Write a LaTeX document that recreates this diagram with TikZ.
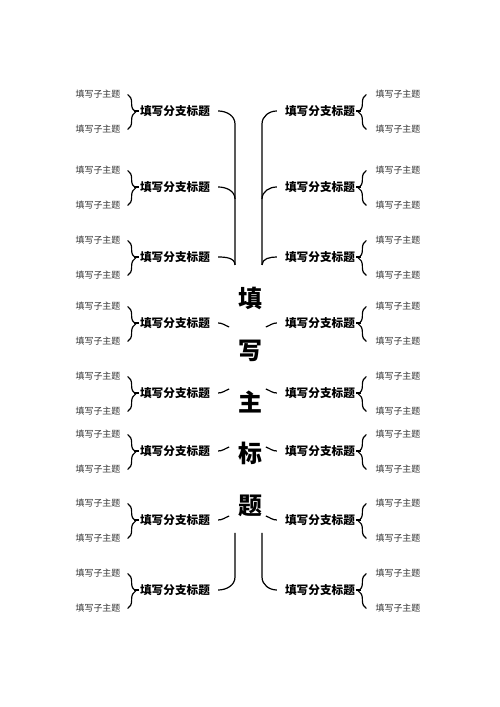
\documentclass[tikz,border=0pt]{standalone}
\usepackage{fontspec}
\newfontfamily\cjk{Noto Sans CJK SC}
\usetikzlibrary{positioning,decorations.pathreplacing}

\begin{document}
\begin{tikzpicture}[
		x=1bp,y=1bp,
		branch/.style={
			font=\cjk\bfseries\fontsize{11.7}{14}\selectfont,
			inner sep=1bp
		},
		leaf/.style={
			font=\cjk\fontsize{9}{10}\selectfont,
			text=black!80,
			inner sep=1bp
		},
		head/.style={
			font=\cjk\bfseries\fontsize{24}{52}\selectfont,
			align=center,
			inner sep=0pt
		},
		link/.style={line width=1.2bp},
		lbrace/.style={link, decorate, decoration={brace, amplitude=8bp}}
		]
		\useasboundingbox (0,0) rectangle (500,707);
		\node[head] (head) at (250,305) {填\\写\\主\\标\\题};
		\foreach \yy [count=\mi] in {596,520,450,384,314,256,187,117}
		{
			\node[branch] (bl-\mi) at (175,\yy) {填写分支标题};
			\node[branch] (br-\mi) at (320,\yy) {填写分支标题};
			\node[leaf] (ll-\mi-1) at (98,\yy+16.5) {填写子主题};
			\node[leaf] (ll-\mi-2) at (98,\yy-18.5) {填写子主题};
			\node[leaf] (lr-\mi-1) at (398,\yy+16.5) {填写子主题};
			\node[leaf] (lr-\mi-2) at (398,\yy-18.5) {填写子主题};
			\draw[lbrace] ([xshift=6bp]ll-\mi-1.east) -- ([xshift=6bp]ll-\mi-2.east);
			\draw[lbrace] ([xshift=-8bp]lr-\mi-2.west) -- ([xshift=-8bp]lr-\mi-1.west);
			\draw[link] (bl-\mi.west) -- +(-5,0);
			\draw[link] (br-\mi.east) -- +(5,0);
		}
		\draw[link] ([xshift=7bp]bl-1.east) to[out=0,in=90] (235,583) -- (235,442);
		\draw[link] ([xshift=7bp]bl-2.east) to[out=0,in=90] (235,508);
		\draw[link] ([xshift=7bp]bl-3.east) to[out=0,in=90] (235,442);
		\draw[link] ([xshift=-7bp]br-1.west) to[out=180,in=90] (262,583) -- (262,442);
		\draw[link] ([xshift=-7bp]br-2.west) to[out=180,in=90] (262,508);
		\draw[link] ([xshift=-7bp]br-3.west) to[out=180,in=90] (262,442);
		\foreach \mi/\sg in {4/-1,5/1,6/1,7/1}
		{
			\draw[link] ([xshift=7bp]bl-\mi.east) to[out=0,in=180+20*\sg] +(11,4*\sg);
			\draw[link] ([xshift=-7bp]br-\mi.west) to[out=180,in=-20*\sg] +(-11,4*\sg);
		}
		\draw[link] ([xshift=7bp]bl-8.east) to[out=0,in=-90] (235,130) -- (235,174);
		\draw[link] ([xshift=-7bp]br-8.west) to[out=180,in=-90] (262,130) -- (262,174);
\end{tikzpicture}
\end{document}
